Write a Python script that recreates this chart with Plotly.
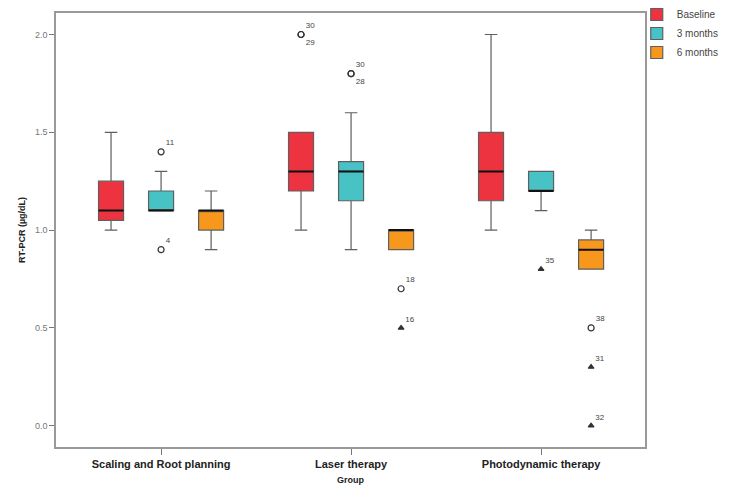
import plotly.graph_objects as go

groups = ["Scaling and Root planning", "Laser therapy", "Photodynamic therapy"]
series = ["Baseline", "3 months", "6 months"]
colors = ["#EE3340", "#47C2C5", "#F7981D"]

# box statistics per series: [Scaling, Laser, Photodynamic]
lower = {"Baseline": [1.0, 1.0, 1.0], "3 months": [1.1, 0.9, 1.1], "6 months": [0.9, 0.9, 0.8]}
q1 = {"Baseline": [1.05, 1.2, 1.15], "3 months": [1.1, 1.15, 1.2], "6 months": [1.0, 0.9, 0.8]}
med = {"Baseline": [1.1, 1.3, 1.3], "3 months": [1.1, 1.3, 1.2], "6 months": [1.1, 1.0, 0.9]}
q3 = {"Baseline": [1.25, 1.5, 1.5], "3 months": [1.2, 1.35, 1.3], "6 months": [1.1, 1.0, 0.95]}
upper = {"Baseline": [1.5, 1.5, 2.0], "3 months": [1.3, 1.6, 1.3], "6 months": [1.2, 1.0, 1.0]}

# outliers
out_series = ["3 months", "3 months", "Baseline", "Baseline", "3 months", "3 months",
              "6 months", "6 months", "3 months", "6 months", "6 months", "6 months"]
out_group = ["Scaling and Root planning", "Scaling and Root planning", "Laser therapy", "Laser therapy",
             "Laser therapy", "Laser therapy", "Laser therapy", "Laser therapy",
             "Photodynamic therapy", "Photodynamic therapy", "Photodynamic therapy", "Photodynamic therapy"]
out_value = [1.4, 0.9, 2.0, 2.0, 1.8, 1.8, 0.7, 0.5, 0.8, 0.5, 0.3, 0.0]
out_label = ["11", "4", "30", "29", "30", "28", "18", "16", "35", "38", "31", "32"]
out_kind = ["circle", "circle", "circle", "circle", "circle", "circle",
            "circle", "extreme", "extreme", "circle", "extreme", "extreme"]
out_pos = ["top right", "top right", "top right", "bottom right", "top right", "bottom right",
           "top right", "top right", "top right", "top right", "top right", "top right"]

BOXGAP = 0.21
fig = go.Figure()
for s, c in zip(series, colors):
    fig.add_trace(go.Box(
        name=s, x=groups, q1=q1[s], median=med[s], q3=q3[s],
        lowerfence=lower[s], upperfence=upper[s],
        fillcolor=c, line=dict(color="#5f5f5f", width=1.2), whiskerwidth=0.5,
        offsetgroup=s, alignmentgroup="a", boxpoints=False, hoverinfo="skip",
    ))
# thick black median lines drawn as zero-height boxes at the median
for s in series:
    fig.add_trace(go.Box(
        name=s, x=groups, q1=med[s], median=med[s], q3=med[s],
        lowerfence=med[s], upperfence=med[s],
        fillcolor="rgba(0,0,0,0)", line=dict(color="#111111", width=2), whiskerwidth=0,
        offsetgroup=s, alignmentgroup="a", boxpoints=False, hoverinfo="skip", showlegend=False,
    ))

for s in series:
    for kind in ["circle", "extreme"]:
        idx = [i for i in range(len(out_value)) if out_series[i] == s and out_kind[i] == kind]
        if not idx:
            continue
        fig.add_trace(go.Scatter(
            x=[out_group[i] for i in idx], y=[out_value[i] for i in idx],
            text=[out_label[i] for i in idx], textposition=[out_pos[i] for i in idx],
            mode="markers+text", showlegend=False, offsetgroup=s, alignmentgroup="a",
            marker=dict(symbol="circle-open" if kind == "circle" else "triangle-up",
                        size=6 if kind == "circle" else 5,
                        color="#333333", line=dict(width=1.2, color="#333333")),
            textfont=dict(size=8, color="#444444", family="Liberation Sans"),
            hoverinfo="skip",
        ))

fig.update_layout(
    width=725, height=477,
    margin=dict(l=48, r=88, t=5, b=38, autoexpand=False),
    paper_bgcolor="white", plot_bgcolor="white",
    boxmode="group", boxgap=BOXGAP, boxgroupgap=0.5,
    scattermode="group", scattergap=BOXGAP,
    font=dict(family="Liberation Sans", color="#333333"),
    legend=dict(x=0.986, y=1.03, xanchor="left", yanchor="top",
                font=dict(size=10, color="#444444"), tracegroupgap=0,
                itemwidth=30, bgcolor="rgba(0,0,0,0)"),
    xaxis=dict(type="category", categoryorder="array", categoryarray=groups,
               range=[-0.553, 2.547], showline=True, mirror=True, linecolor="#999999", linewidth=1.5,
               ticks="outside", ticklen=6, tickcolor="#777777", showgrid=False, zeroline=False,
               tickfont=dict(size=11, color="#222222", weight="bold"),
               title=dict(text="Group", font=dict(size=9, color="#222222", weight="bold"), standoff=8)),
    yaxis=dict(range=[-0.109, 2.11], tickvals=[0, 0.5, 1.0, 1.5, 2.0],
               ticktext=["0.0", "0.5", "1.0", "1.5", "2.0"],
               showline=True, mirror=True, linecolor="#999999", linewidth=1.5,
               ticks="outside", ticklen=5, tickcolor="#777777", showgrid=False, zeroline=False,
               tickfont=dict(size=9, color="#777777"),
               title=dict(text="RT-PCR (µg/dL)", font=dict(size=9, color="#222222", weight="bold"),
                          standoff=8)),
)

fig.write_html("out.html")
